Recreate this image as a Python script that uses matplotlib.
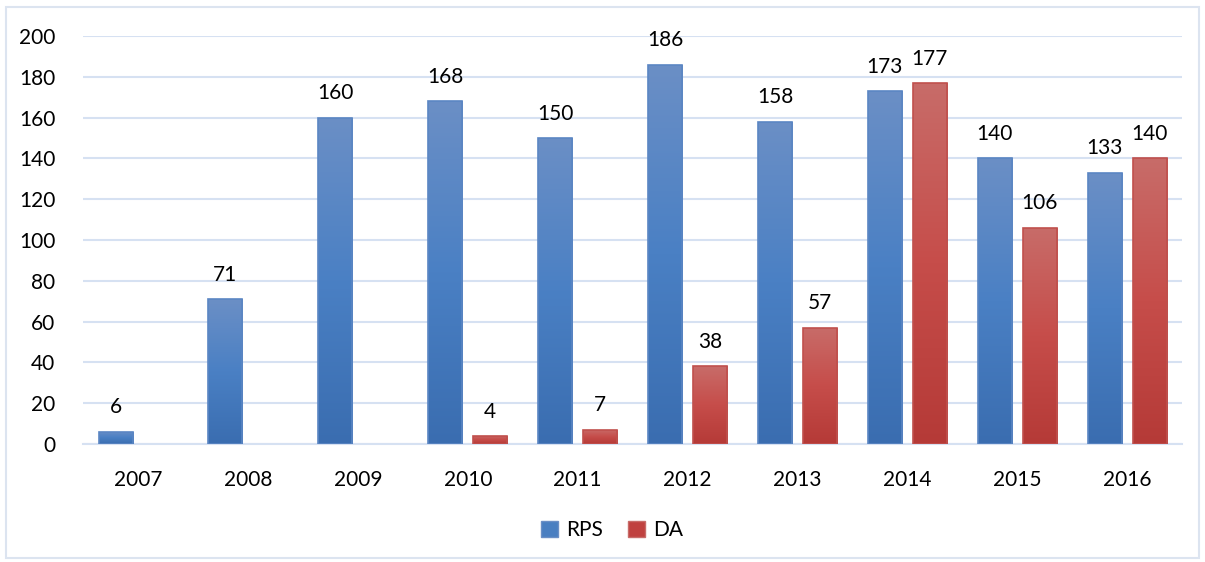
import numpy as np
import matplotlib.pyplot as plt
from matplotlib.patches import Rectangle
from matplotlib.colors import LinearSegmentedColormap

years = ['2007', '2008', '2009', '2010', '2011', '2012', '2013', '2014', '2015', '2016']
rps = [6, 71, 160, 168, 150, 186, 158, 173, 140, 133]
da = [0, 0, 0, 4, 7, 38, 57, 177, 106, 140]

plt.rcParams['font.family'] = ['Lato', 'DejaVu Sans']

blue_cm = LinearSegmentedColormap.from_list('b', ['#3a6db0', '#4a80c4', '#6b8fc6'])
red_cm = LinearSegmentedColormap.from_list('r', ['#b53a37', '#c64d4a', '#c86c69'])

fig = plt.figure(figsize=(12.05, 5.62), dpi=100)
ax = fig.add_axes([0.069, 0.21, 0.912, 0.726])

x = np.arange(len(years))
w = 0.31
grad = np.linspace(0, 1, 256).reshape(-1, 1)
fs = 15


def grad_bar(xc, h, cmap, edge):
    if h <= 0:
        return
    im = ax.imshow(grad, extent=[xc - w / 2, xc + w / 2, 0, h], origin='lower',
                   cmap=cmap, aspect='auto', zorder=3)
    r = Rectangle((xc - w / 2, 0), w, h, facecolor='none', edgecolor=edge, lw=1.2, zorder=4)
    ax.add_patch(r)
    im.set_clip_path(r)


for i in x:
    grad_bar(i - 0.05 - w / 2, rps[i], blue_cm, '#5b86c3')
    grad_bar(i + 0.05 + w / 2, da[i], red_cm, '#c0504d')
    ax.text(i - 0.05 - w / 2, rps[i] + 7, str(rps[i]), ha='center', va='bottom', fontsize=fs)
    if da[i] > 0:
        ax.text(i + 0.05 + w / 2, da[i] + 7, str(da[i]), ha='center', va='bottom', fontsize=fs)

ax.set_xlim(-0.5, len(years) - 0.5)
ax.set_ylim(0, 200)
ax.set_yticks(range(0, 201, 20))
ax.set_xticks(x)
ax.set_xticklabels(years)
ax.tick_params(length=0, labelsize=fs)
ax.tick_params(axis='x', pad=19)
ax.tick_params(axis='y', pad=20)
ax.grid(axis='y', color='#d6e1f2', lw=1.5, zorder=0)
for s in ['top', 'right', 'left']:
    ax.spines[s].set_visible(False)
ax.spines['bottom'].set_color('#d6e1f2')
ax.spines['bottom'].set_linewidth(1.5)

handles = [Rectangle((0, 0), 1, 1, facecolor='#4a7fc1', edgecolor='#6b8fc6'),
           Rectangle((0, 0), 1, 1, facecolor='#c0413f', edgecolor='#c86c69')]
fig.legend(handles, ['RPS', 'DA'], loc='center', bbox_to_anchor=(0.508, 0.057), ncol=2,
           frameon=False, fontsize=fs, handlelength=0.8, handleheight=0.8, handletextpad=0.4,
           columnspacing=1.2)

fig.patches.append(Rectangle((0.005, 0.008), 0.99, 0.98, transform=fig.transFigure,
                             facecolor='none', edgecolor='#dce4f0', lw=1.5))

fig.savefig('out.png', dpi=100)
